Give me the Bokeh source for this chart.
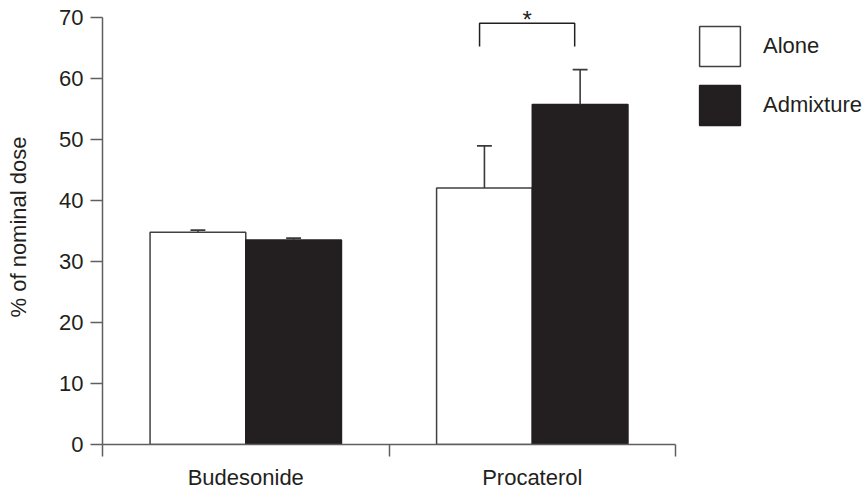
from bokeh.plotting import figure
from bokeh.models import ColumnDataSource, FixedTicker, Legend, LegendItem, Label, Range1d
from bokeh.embed import file_html
from bokeh.resources import INLINE

# ---- data ----
categories = ["Budesonide", "Procaterol"]
series = ["Alone", "Admixture"]
alone = [34.75, 42.0]
alone_err = [0.35, 6.9]
admix = [33.5, 55.7]
admix_err = [0.3, 5.7]
y_ticks = [0, 10, 20, 30, 40, 50, 60, 70]
y_label = "% of nominal dose"
sig_mark = "*"
sig_pair = 1  # index of category with the significance bracket

# ---- style ----
FONT = "Liberation Sans"
FS = "22px"
INK = "#231f20"
AXIS = "#5f5f61"
BAR_LINE = "#404042"

p = figure(width=867, height=492, output_backend="svg", toolbar_location=None,
           x_range=Range1d(0, 2.670), y_range=Range1d(0, 71.24),
           min_border_left=102, min_border_right=0, min_border_top=9, min_border_bottom=47)
p.outline_line_color = None
p.grid.visible = False
p.background_fill_color = "white"
p.border_fill_color = "white"

n = len(categories)
centers = [i + 0.5 for i in range(n)]
off = 0.167
bw = 0.334
cap = 0.026
x_alone = [c - off for c in centers]
x_admix = [c + off for c in centers]

src_a = ColumnDataSource(dict(
    x=x_alone, top=alone,
    et=[v + e for v, e in zip(alone, alone_err)],
    c0=[x - cap for x in x_alone], c1=[x + cap for x in x_alone]))
src_b = ColumnDataSource(dict(
    x=x_admix, top=admix,
    et=[v + e for v, e in zip(admix, admix_err)],
    c0=[x - cap for x in x_admix], c1=[x + cap for x in x_admix]))

r_a = p.vbar(x="x", top="top", bottom=0, width=bw, source=src_a,
             fill_color="white", line_color=BAR_LINE, line_width=1.5)
r_b = p.vbar(x="x", top="top", bottom=0, width=bw, source=src_b,
             fill_color=INK, line_color=INK, line_width=1.5)

for src in (src_a, src_b):
    p.segment(x0="x", y0="top", x1="x", y1="et", source=src, line_color="#3a3a3c", line_width=1.6)
    p.segment(x0="c0", y0="et", x1="c1", y1="et", source=src, line_color="#3a3a3c", line_width=1.8)

# significance bracket
bx0 = x_alone[sig_pair] - 0.017
bx1 = x_admix[sig_pair] - 0.019
by = 69.0
leg = 3.8
p.multi_line(xs=[[bx0, bx0, bx1, bx1]], ys=[[by - leg, by, by, by - leg]],
             line_color=INK, line_width=1.5)
p.add_layout(Label(x=(bx0 + bx1) / 2, y=by, y_offset=4, text=sig_mark,
                   text_align="center", text_baseline="middle",
                   text_font=FONT, text_font_size="24px", text_color=INK))

# y axis
ya = p.yaxis[0]
ya.ticker = FixedTicker(ticks=y_ticks)
ya.bounds = (0, 70)
ya.axis_line_color = AXIS
ya.axis_line_width = 1.5
ya.major_tick_line_color = AXIS
ya.major_tick_line_width = 1.5
ya.major_tick_out = 12
ya.major_tick_in = 0
ya.minor_tick_out = 0
ya.minor_tick_in = 0
ya.major_label_standoff = 7
ya.major_label_text_font = FONT
ya.major_label_text_font_size = FS
ya.major_label_text_color = INK
ya.axis_label = y_label
ya.axis_label_text_font = FONT
ya.axis_label_text_font_size = FS
ya.axis_label_text_font_style = "normal"
ya.axis_label_text_color = INK
ya.axis_label_standoff = 25

# x axis: labels at category centres, ticks at category boundaries
xa = p.xaxis[0]
xa.ticker = FixedTicker(ticks=centers, minor_ticks=[float(i) for i in range(n + 1)])
xa.major_label_overrides = {c: name for c, name in zip(centers, categories)}
xa.bounds = (0, n)
xa.axis_line_color = AXIS
xa.axis_line_width = 1.5
xa.minor_tick_line_color = AXIS
xa.minor_tick_line_width = 1.5
xa.minor_tick_out = 12
xa.minor_tick_in = 0
xa.major_tick_out = 0
xa.major_tick_in = 0
xa.major_label_standoff = 8
xa.major_label_text_font = FONT
xa.major_label_text_font_size = FS
xa.major_label_text_color = INK

legend = Legend(items=[LegendItem(label=series[0], renderers=[r_a]),
                       LegendItem(label=series[1], renderers=[r_b])],
                location=(592, 314), glyph_width=51, glyph_height=50, spacing=9,
                label_standoff=18, padding=0, margin=0,
                border_line_alpha=0, background_fill_alpha=0,
                label_text_font=FONT, label_text_font_size=FS, label_text_color=INK)
p.add_layout(legend)

open("out.html", "w").write(file_html(p, INLINE))
